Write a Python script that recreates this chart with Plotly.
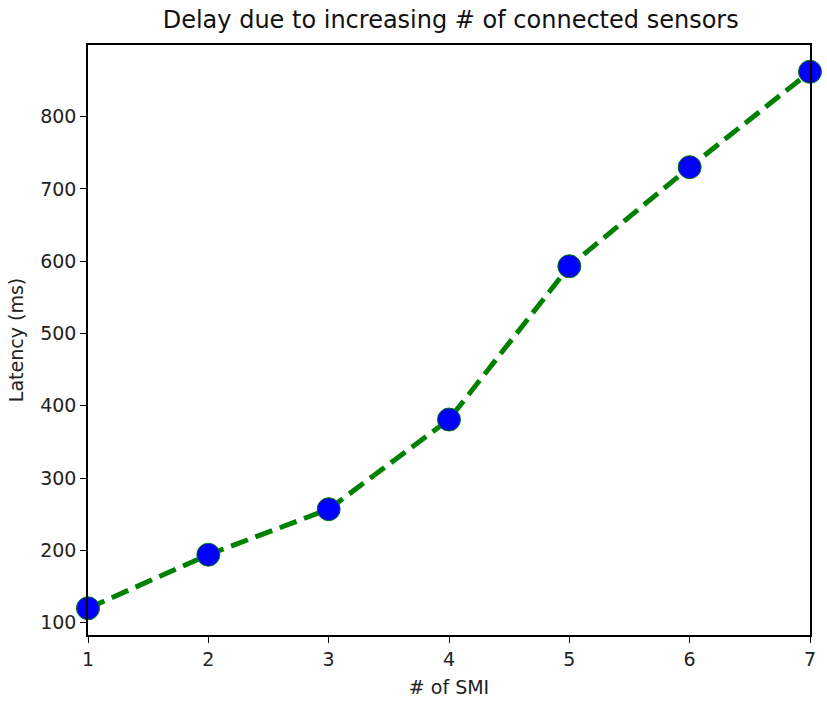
import plotly.graph_objects as go

x_smi = [1, 2, 3, 4, 5, 6, 7]
latency_ms = [120, 194, 257, 381, 593, 730, 862]
y_ticks = [100, 200, 300, 400, 500, 600, 700, 800]

FONT = "DejaVu Sans"

fig = go.Figure()
fig.add_trace(go.Scatter(
    x=x_smi, y=latency_ms, mode="lines+markers",
    line=dict(color="green", width=5, dash="18px,8px"),
    marker=dict(color="blue", size=23, line=dict(color="green", width=1)),
    cliponaxis=False, showlegend=False,
))

axis_common = dict(
    showgrid=False, zeroline=False, showline=True, linecolor="black", linewidth=1.5,
    mirror=True, ticks="outside", ticklen=6, tickcolor="black", tickwidth=1.2,
    tickfont=dict(family=FONT, size=19, color="#222"),
)
fig.update_xaxes(range=[1, 7], tickvals=x_smi,
                 title=dict(text="# of SMI", font=dict(family=FONT, size=19, color="#222"), standoff=12),
                 **axis_common)
fig.update_yaxes(range=[83, 899], tickvals=y_ticks,
                 title=dict(text="Latency (ms)", font=dict(family=FONT, size=19, color="#222"), standoff=12),
                 **axis_common)

fig.update_layout(
    width=827, height=706,
    margin=dict(l=88, r=17, t=45, b=71),
    plot_bgcolor="white", paper_bgcolor="white",
    title=dict(text="Delay due to increasing # of connected sensors", x=0.545, xanchor="center",
               y=0.972, yanchor="middle",
               font=dict(family=FONT, size=24, color="#111")),
)
fig.write_html("out.html")
